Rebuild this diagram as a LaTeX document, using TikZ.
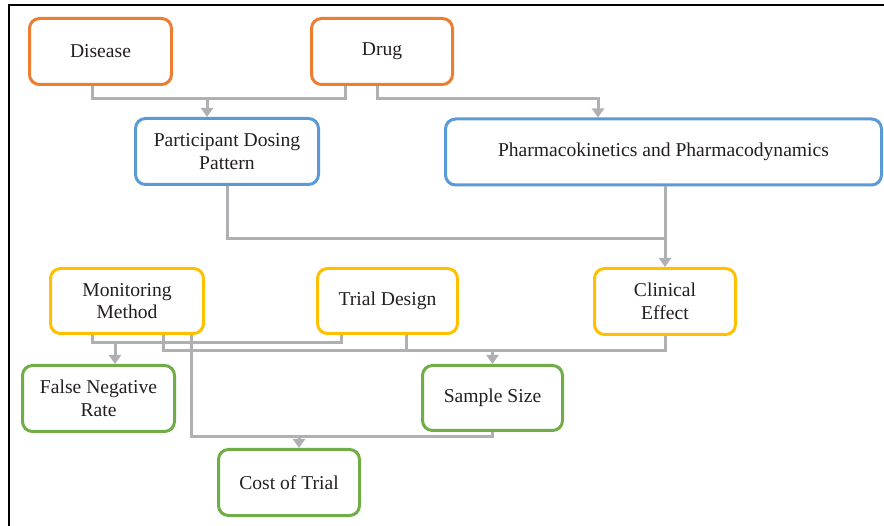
\documentclass[tikz,border=0pt]{standalone}
\usepackage{fontspec}
\setmainfont{LiberationSerif}[Extension=.ttf,UprightFont=*-Regular,BoldFont=*-Bold]
\usetikzlibrary{arrows.meta}
\definecolor{MainOrange}{RGB}{237,125,49}
\definecolor{MainBlue}{RGB}{91,155,213}
\definecolor{MainYellow}{RGB}{255,192,0}
\definecolor{MainGreen}{RGB}{112,173,71}
\definecolor{LinkGray}{RGB}{175,175,180}
\definecolor{TextDark}{RGB}{35,31,32}

\begin{document}
\begin{tikzpicture}[x=1pt,y=-1pt,>={Triangle[width=12pt,length=9pt]},
  box/.style={draw=#1,line width=3pt,rounded corners=10pt,align=center,inner sep=0pt,
    minimum height=66pt,text=TextDark,font=\fontsize{19.6}{22.5}\selectfont},
  link/.style={line width=3pt,LinkGray}]
  \useasboundingbox (0,0) rectangle (884,526);
  \draw[line width=2pt] (9,526) -- (9,5.5) -- (884,5.5);

  % inputs
  \node[box=MainOrange,minimum width=142pt] (disease) at (100.5,51.5) {Disease};
  \node[box=MainOrange,minimum width=141pt] (drug) at (382,51.5) {Drug};
  \node[box=MainBlue,minimum width=183pt] (pdp) at (227,151.5) {Participant Dosing\\Pattern};
  \node[box=MainBlue,minimum width=436pt] (pkpd) at (663.5,152) {Pharmacokinetics and Pharmacodynamics};

  % trial choices
  \node[box=MainYellow,minimum width=153pt,minimum height=65pt] (monitor) at (127,301) {Monitoring\\Method};
  \node[box=MainYellow,minimum width=140pt,minimum height=65pt] (design) at (387.5,301) {Trial Design};
  \node[box=MainYellow,minimum width=141pt] (effect) at (665,301.5) {Clinical\\Effect};

  % outcomes
  \node[box=MainGreen,minimum width=152pt] (fnr) at (98.5,398.5) {False Negative\\Rate};
  \node[box=MainGreen,minimum width=140pt,minimum height=65pt] (size) at (492.5,398) {Sample Size};
  \node[box=MainGreen,minimum width=141pt] (cost) at (289,482.5) {Cost of Trial};

  % disease + drug
  \draw[link] (disease.south -| 92,0) |- (345,99) -- (drug.south -| 345,0);
  \draw[link,->] (207,99) -- (pdp.north -| 207,0);
  \draw[link,->] (drug.south -| 377,0) |- (598,99) -- (pkpd.north -| 598,0);

  % dosing + pk/pd -> effect
  \draw[link] (pdp.south) |- (665,238.5);
  \draw[link,->] (pkpd.south -| effect.north) -- (effect.north);

  % monitoring + design -> false negatives
  \draw[link] (monitor.south -| 92,0) |- (341,343) -- (design.south -| 341,0);
  \draw[link,->] (115,343) -- (fnr.north -| 115,0);

  % monitoring + design + effect -> sample size
  \draw[link] (monitor.south -| 163,0) |- (effect.south |- 0,350.5) -- (effect.south);
  \draw[link] (design.south -| 406,0) -- (406,350.5);
  \draw[link,->] (size.north |- 0,350.5) -- (size.north);

  % monitoring + sample size -> cost
  \draw[link] (monitor.south -| 191,0) |- (size.south |- 0,437) -- (size.south);
  \draw[link,->] (299,437) -- (cost.north -| 299,0);
\end{tikzpicture}
\end{document}
